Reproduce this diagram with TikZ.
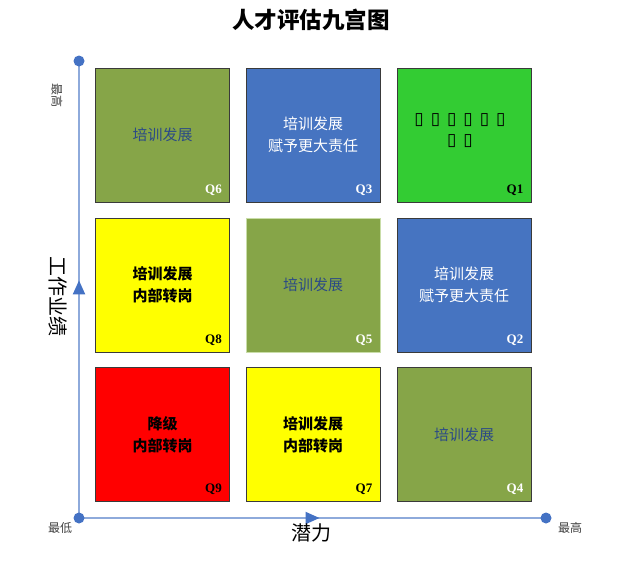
\documentclass[tikz,border=0pt]{standalone}
\usepackage{fontspec}
\setmainfont{Liberation Serif}
\newfontfamily\cjk{Noto Sans CJK SC}
\newfontfamily\sym{DejaVu Sans}
\usetikzlibrary{arrows.meta,decorations.markings}
\definecolor{olive}{HTML}{86A548}
\definecolor{cblue}{HTML}{4674C1}
\definecolor{cgreen}{HTML}{33CC33}
\definecolor{cyellow}{HTML}{FFFF00}
\definecolor{cred}{HTML}{FF0000}
\definecolor{navy}{HTML}{2B4A86}
\definecolor{axisline}{HTML}{8EAADB}
\definecolor{axisdot}{HTML}{4472C4}
\definecolor{boxedge}{HTML}{3A3A3A}
\definecolor{paleedge}{HTML}{C9DDA8}
\tikzset{
  cell/.style={draw=boxedge, line width=1pt, minimum width=134pt, minimum height=134pt, inner sep=0pt, anchor=center},
  celltext/.style={font=\cjk\fontsize{15}{22}\selectfont, align=center, inner sep=0pt},
  qlab/.style={font=\bfseries\fontsize{13}{13}\selectfont, anchor=south east, inner sep=0pt},
  dotnode/.style={circle, fill=axisdot, minimum size=11pt, inner sep=0pt},
  axisstyle/.style={draw=axisline, line width=2pt},
  axlabel/.style={font=\cjk\fontsize{12}{12}\selectfont, text=black!75, inner sep=0pt},
  midarrow/.style={postaction={decorate}, decoration={markings, mark=at position #1 with {\arrow[axisdot]{Triangle[length=14pt,width=12pt]}}}}
}
\begin{document}
\begin{tikzpicture}[x=1pt,y=-1pt]
\useasboundingbox (0,0) rectangle (623,576);
% title
\node[font=\cjk\bfseries\fontsize{22.5}{22.5}\selectfont, inner sep=0pt] (title) at (311,20) {人才评估九宫图};
% cells
\node[cell, fill=olive]   (q6) at (162.5,135) {};
\node[cell, fill=cblue]   (q3) at (313,135) {};
\node[cell, fill=cgreen]  (q1) at (464,135) {};
\node[cell, fill=cyellow] (q8) at (162.5,285) {};
\node[cell, fill=olive, draw=paleedge] (q5) at (313,285) {};
\node[cell, fill=cblue]   (q2) at (464,285) {};
\node[cell, fill=cred]    (q9) at (162.5,434.5) {};
\node[cell, fill=cyellow] (q7) at (313,434.5) {};
\node[cell, fill=olive]   (q4) at (464,434.5) {};
% cell texts
\node[celltext, text=navy] (t6) at (q6.center) {培训发展};
\node[celltext, text=white] (t3) at (q3.center) {培训发展\\赋予更大责任};
\node[font=\sym\bfseries\fontsize{17}{21}\selectfont, align=center, inner sep=0pt] (t1) at ([xshift=-4pt,yshift=4pt]q1.center) {▯\hspace{7pt}▯\hspace{7pt}▯\hspace{7pt}▯\hspace{7pt}▯\hspace{7pt}▯\\▯\hspace{7pt}▯};
\node[celltext, text=black, font=\cjk\bfseries\fontsize{15}{22}\selectfont] (t8) at (q8.center) {培训发展\\内部转岗};
\node[celltext, text=navy] (t5) at (q5.center) {培训发展};
\node[celltext, text=white] (t2) at (q2.center) {培训发展\\赋予更大责任};
\node[celltext, text=black, font=\cjk\bfseries\fontsize{15}{22}\selectfont] (t9) at (q9.center) {降级\\内部转岗};
\node[celltext, text=black, font=\cjk\bfseries\fontsize{15}{22}\selectfont] (t7) at (q7.center) {培训发展\\内部转岗};
\node[celltext, text=navy] (t4) at (q4.center) {培训发展};
% Q labels
\node[qlab, text=white] (l6) at ([xshift=-8pt,yshift=7pt]q6.south east) {Q6};
\node[qlab, text=white] (l3) at ([xshift=-8pt,yshift=7pt]q3.south east) {Q3};
\node[qlab, text=black] (l1) at ([xshift=-8pt,yshift=7pt]q1.south east) {Q1};
\node[qlab, text=black] (l8) at ([xshift=-8pt,yshift=7pt]q8.south east) {Q8};
\node[qlab, text=white] (l5) at ([xshift=-8pt,yshift=7pt]q5.south east) {Q5};
\node[qlab, text=white] (l2) at ([xshift=-8pt,yshift=7pt]q2.south east) {Q2};
\node[qlab, text=black] (l9) at ([xshift=-8pt,yshift=7pt]q9.south east) {Q9};
\node[qlab, text=black] (l7) at ([xshift=-8pt,yshift=7pt]q7.south east) {Q7};
\node[qlab, text=white] (l4) at ([xshift=-8pt,yshift=7pt]q4.south east) {Q4};
% axes
\coordinate (origin) at (79,518);
\coordinate (ytop) at (79,61);
\coordinate (xend) at (546,518);
\draw[axisstyle, midarrow=0.52] (origin) -- (ytop);
\draw[axisstyle, midarrow=0.515] (origin) -- (xend);
\node[dotnode] (dorigin) at (origin) {};
\node[dotnode] (dtop) at (ytop) {};
\node[dotnode] (dxend) at (xend) {};
% axis labels
\node[axlabel, rotate=-90] (ymax) at (57,95) {最高};
\node[font=\cjk\fontsize{20}{20}\selectfont, rotate=-90, inner sep=0pt] (ylab) at (58,296) {工作业绩};
\node[axlabel] (xmin) at (60,528) {最低};
\node[axlabel] (xmax) at (570,528) {最高};
\node[font=\cjk\fontsize{20}{20}\selectfont, inner sep=0pt] (xlab) at (311,533) {潜力};
\end{tikzpicture}
\end{document}
